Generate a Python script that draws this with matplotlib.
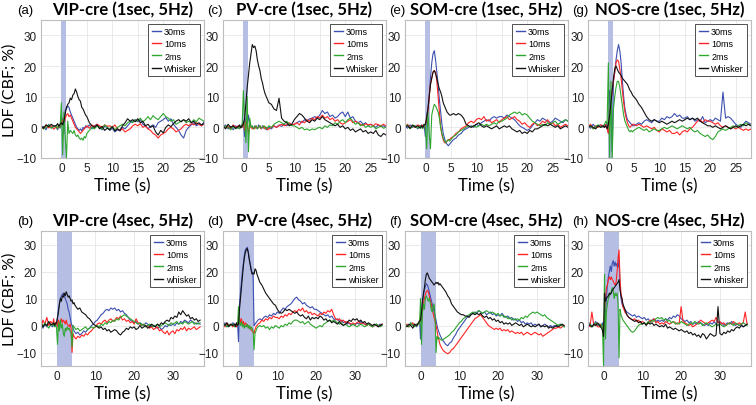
import numpy as np
import matplotlib.pyplot as plt
from matplotlib.lines import Line2D

# tempo (s): passo mais fino durante o estimulo
t_top = np.concatenate([np.arange(-4, -1, 0.5), np.arange(-1, 5, 0.25), np.arange(5, 28.01, 0.5)])
t_bot = np.concatenate([np.arange(-4, -1, 0.5), np.arange(-1, 5, 0.25), np.arange(5, 37.01, 0.5)])

titulos = ["VIP-cre (1sec, 5Hz)", "PV-cre (1sec, 5Hz)", "SOM-cre (1sec, 5Hz)", "NOS-cre (1sec, 5Hz)",
           "VIP-cre (4sec, 5Hz)", "PV-cre (4sec, 5Hz)", "SOM-cre (4sec, 5Hz)", "NOS-cre (4sec, 5Hz)"]
letras = ["(a)", "(c)", "(e)", "(g)", "(b)", "(d)", "(f)", "(h)"]
rotulos_top = ["30ms", "10ms", "2ms", "Whisker"]
rotulos_bot = ["30ms", "10ms", "2ms", "whisker"]
duracao = [1, 1, 1, 1, 4, 4, 4, 4]

# ---------- linha de cima (1 s) ----------
vip1_30 = [-0.5, 0.3, -0.8, 1.0, -0.2, 0.5,
           0.0, -0.8, 0.6, -0.3, 1.0, 3.0, -2.0, 5.5, 6.0, 7.0, 6.5, 5.0,
           4.0, 3.0, 2.0, 1.0, 0.0, -0.5, -1.0, -0.5, -1.2, 0.0, -0.5, 0.5,
           0.0, 0.8, -0.5, 0.5, 1.0, 0.0, -0.8, 0.3, 0.0, -1.0,
           -0.3, -1.5, -0.8, -1.2, 0.0, -0.5, 0.5, 1.5, 2.0, 2.5,
           1.8, 2.5, 1.0, 0.5, -0.5, 0.3, 0.8, 0.0, 1.5, 2.0,
           2.5, 3.2, 2.0, 2.8, 1.0, 0.0, -1.0, -2.5, -3.5, -1.0,
           0.0, 0.8, 1.5, 0.5, 1.0, 0.5, 1.8]
vip1_10 = [0.3, -0.5, 0.8, -0.2, 0.5, -0.6,
           0.2, -0.5, 0.8, 0.0, 1.5, 2.5, 0.5, 3.0, 4.0, 4.5, 3.5, 4.0,
           3.0, 2.0, 1.0, 0.0, -0.5, -1.0, -1.5, -2.0, -1.5, -1.0, -0.5, 0.0,
           0.5, -0.3, 0.8, 0.2, 1.0, 0.5, 0.0, 0.8, 0.3, 0.5,
           0.0, 0.8, -0.5, -1.0, -0.5, -1.5, -1.0, -0.5, 0.5, 1.0,
           0.5, 1.2, 0.0, 0.5, -0.5, -1.0, -2.0, -2.5, -3.5, -2.5,
           -2.0, -1.5, -0.5, 0.0, -0.5, -1.5, -1.0, -0.5, 0.5, 1.0,
           0.5, 1.2, 0.8, 1.5, 1.0, 0.5, 1.2]
vip1_2 = [0.5, -0.5, 0.0, 0.8, -0.3, 0.2,
          0.5, -0.5, 1.0, 0.0, 8.0, -9.0, 5.0, -3.0, -10.0, 2.0, -2.0, -1.0,
          -1.5, -2.0, -1.0, -2.5, -3.0, -2.5, -3.5, -4.0, -3.5, -4.2, -3.0, -3.5,
          -2.0, -1.0, 0.0, -0.5, 0.5, 0.0, -0.5, 0.8, 0.0, -0.5,
          0.3, -0.8, 0.0, 0.5, 1.0, 0.5, 1.5, 2.0, 1.5, 2.5,
          2.0, 3.0, 1.8, 2.5, 3.5, 2.5, 3.8, 3.0, 2.5, 3.5,
          4.5, 3.5, 3.0, 2.0, 2.5, 1.0, 1.5, 2.0, 2.5, 1.5,
          2.0, 1.5, 2.5, 1.8, 3.0, 2.5, 2.0]
vip1_w = [0.5, -0.3, 0.8, 0.2, 1.0, 0.4,
          0.6, 1.2, 0.3, 1.0, 1.5, 0.8, 2.0, 4.5, 6.5, 7.5, 8.0, 9.5,
          9.0, 10.5, 11.0, 12.5, 11.5, 10.0, 9.0, 8.5, 6.5, 6.0, 5.0, 4.0,
          3.5, 1.5, 0.5, 0.0, 0.8, -0.5, 0.3, -1.0, -0.3, -0.8,
          0.2, -1.2, -0.5, -1.0, 0.5, 1.5, 2.8, 2.0, 2.5, 1.8,
          2.8, 1.5, 2.0, 0.5, 1.0, 0.0, 0.5, -1.5, -2.5, -1.0,
          -1.8, 0.0, 0.8, 0.2, 1.2, 2.0, 2.5, 1.8, 2.5, 2.0,
          2.8, 1.5, 2.0, 1.0, 1.5, 0.8, 1.2]

pv1_30 = [0.0, 0.8, -0.5, 0.3, -0.8, 0.5,
          -0.3, 0.5, 0.0, 1.0, 2.0, -3.0, 3.0, 0.5, 4.0, 1.0, 0.5, 0.0,
          -0.5, 0.5, 0.0, -0.5, 0.8, 0.0, -0.5, 0.5, -0.3, 0.0, -0.8, -0.5,
          0.0, -0.5, 0.5, 0.0, 0.8, 0.3, 1.0, 0.5, 1.2, 0.8,
          1.0, 1.5, 2.0, 1.5, 2.5, 2.0, 2.8, 3.0, 3.5, 3.0,
          4.0, 5.5, 4.5, 5.0, 3.5, 4.0, 3.0, 3.5, 4.5, 5.0,
          3.5, 5.0, 3.0, 3.5, 2.0, 1.5, 2.0, 1.0, 1.5, 0.5,
          1.0, 0.5, 0.0, 0.8, 0.2, 0.5, 0.0]
pv1_10 = [0.5, -0.3, 0.3, -0.5, 0.8, 0.0,
          0.5, -0.3, 0.3, 0.0, 1.5, -1.0, 2.0, 1.0, -2.0, 0.5, 0.0, -0.5,
          0.0, -0.5, 0.5, -0.3, 0.0, 0.5, -0.5, 0.0, 0.3, -0.5, 0.0, -0.8,
          -0.5, 0.0, 0.5, 0.0, 0.5, 1.0, 0.5, 0.8, 1.5, 0.8,
          1.0, 1.5, 0.8, 2.0, 1.5, 2.5, 2.0, 3.0, 2.5, 3.5,
          3.0, 4.0, 3.0, 3.5, 2.5, 3.0, 2.0, 2.5, 1.5, 1.0,
          1.5, 2.0, 2.5, 1.5, 2.0, 1.5, 1.0, 0.5, 1.2, 0.8,
          1.0, 0.5, 1.2, 0.8, 0.5, 1.0, 0.5]
pv1_2 = [-0.5, 0.5, 0.0, -0.8, 0.3, -0.5,
         0.0, -0.5, 0.5, 0.0, 12.0, 2.0, -5.0, 10.0, -8.0, 3.0, 0.0, 0.5,
         -0.5, 0.0, 0.5, -0.5, 0.0, 0.5, -0.3, 0.0, 0.5, 0.3, -0.5, 0.0,
         0.5, 0.0, 1.0, 1.5, 2.0, 1.5, 1.0, 2.0, 1.0, 0.5,
         0.5, 0.0, -0.5, 0.0, -0.8, -0.5, -1.0, -0.5, -0.8, -0.3,
         0.0, -0.5, 0.5, 0.0, 0.8, 0.5, 1.5, 1.0, 2.0, 2.5,
         1.5, 2.5, 3.0, 2.0, 1.0, 1.5, 0.5, 1.0, 0.0, 0.5,
         0.0, 0.5, -0.5, 0.0, 0.5, -0.3, 0.0]
pv1_w = [0.5, -0.5, 1.0, 0.0, 0.5, -0.3,
         0.3, 0.8, -0.2, 0.5, 1.0, 3.0, 8.0, 13.0, 17.0, 21.0, 24.0, 27.0,
         26.0, 26.5, 25.0, 22.0, 20.0, 18.5, 16.0, 14.5, 12.5, 11.0, 10.0, 9.0,
         8.0, 7.5, 6.0, 5.5, 9.5, 3.0, 2.0, 1.5, 0.5, 1.0,
         2.5, 3.5, 4.5, 4.0, 3.0, 2.0, 1.5, 2.5, 2.0, 3.0,
         2.5, 3.5, 2.5, 2.0, 1.5, 1.0, 0.5, 1.0, 0.0, 0.5,
         -0.5, 0.0, -1.0, -0.5, -1.5, -1.0, -0.5, -1.5, -1.0, -2.0,
         -1.5, -2.0, -1.0, -2.5, -3.0, -2.0, -2.5]

som1_30 = [0.5, -0.3, 0.8, 0.0, 0.5, -0.5,
           0.3, 0.8, 0.0, 1.0, -3.0, 4.0, 6.0, 10.0, 16.0, 21.0, 24.0, 25.0,
           22.0, 18.0, 14.0, 9.0, 5.0, 1.0, -2.0, -3.5, -5.0, -5.5, -6.0, -5.5,
           -5.0, -4.0, -3.5, -2.5, -2.0, -1.0, -0.5, 0.0, 0.5, 0.0,
           1.0, 0.5, 1.5, 2.0, 2.5, 2.0, 3.0, 3.5, 3.0, 3.5,
           3.5, 3.0, 4.0, 3.5, 3.0, 2.5, 1.5, 0.5, 0.0, -0.5,
           -1.0, -0.5, 0.5, 1.5, 2.5, 2.0, 3.0, 2.5, 2.0, 1.5,
           2.0, 3.0, 2.5, 2.0, 1.5, 2.5, 2.0]
som1_10 = [0.3, 1.0, -0.2, 0.5, 0.0, 0.8,
           0.5, 0.0, 0.8, 0.3, 1.0, 3.0, 5.0, 10.0, 14.0, 16.0, 18.0, 18.5,
           18.0, 15.0, 10.0, 5.0, 0.0, -2.5, -4.0, -5.0, -5.0, -4.5, -4.0, -4.0,
           -3.5, -3.0, -2.0, -1.5, -0.5, 0.0, 0.5, 1.5, 2.0, 1.5,
           2.5, 3.0, 2.5, 3.5, 2.0, 2.5, 1.5, 2.0, 2.5, 1.5,
           2.5, 3.0, 3.5, 2.5, 3.0, 3.5, 2.5, 2.0, 1.0, 1.5,
           0.5, 0.0, 1.0, 1.5, 0.5, 1.0, 2.0, 1.5, 2.5, 1.0,
           1.5, 0.5, 1.0, 0.0, 0.5, 1.0, 0.5]
som1_2 = [0.0, 0.8, -0.5, 0.3, 0.5, -0.3,
          0.5, 0.0, -0.5, 1.0, 0.5, -7.0, 5.0, -2.0, -7.0, 4.0, 6.0, 7.5,
          7.0, 6.0, 5.0, 3.0, 0.0, -2.0, -3.5, -4.5, -5.0, -4.5, -4.0, -4.5,
          -4.0, -3.0, -2.5, -1.5, -1.0, -0.5, 0.0, 0.5, 0.0, 0.5,
          0.0, 0.5, 1.0, 0.5, 1.0, 0.5, 1.0, 1.5, 1.0, 2.0,
          2.0, 2.5, 3.0, 4.0, 4.5, 5.0, 4.5, 5.0, 4.0, 4.5,
          4.0, 3.0, 2.0, 1.5, 1.0, 0.5, 1.0, 0.5, 1.5, 1.0,
          1.5, 2.0, 1.0, 1.5, 2.0, 2.5, 2.0]
som1_w = [0.0, 0.5, -0.3, 0.8, 0.0, 0.5,
          -0.3, 0.5, 0.0, 0.8, 1.0, 3.0, 6.0, 10.0, 14.0, 16.0, 18.0, 18.5,
          17.5, 16.0, 14.0, 12.5, 11.5, 10.0, 8.0, 7.0, 6.0, 5.0, 4.5, 4.0,
          4.0, 4.5, 4.0, 4.5, 4.0, 3.0, 1.0, 0.5, 0.0, 0.5,
          1.0, 1.5, 0.5, 0.0, 0.5, 0.0, -0.5, 0.0, 0.5, -0.5,
          0.0, 0.5, 0.0, 0.5, -0.5, -1.0, -1.5, -1.0, -2.0, -1.5,
          -2.0, -1.0, -1.5, -0.5, -0.5, 0.0, 0.5, 1.0, 0.5, 1.0,
          0.5, 0.0, 0.5, -0.5, 0.0, 0.5, 0.0]

nos1_30 = [0.5, -0.3, 1.0, 0.0, 0.5, 0.8,
           0.0, 1.0, 0.5, 1.5, -2.0, 12.0, 5.0, -8.0, 15.0, 18.0, 22.0, 25.0,
           27.0, 25.0, 21.0, 15.0, 10.0, 6.0, 4.0, 2.5, 2.0, 1.5, 1.0, 0.5,
           0.5, 1.0, 1.5, 1.0, 2.0, 2.5, 2.0, 1.5, 2.5, 2.0,
           2.0, 3.0, 2.5, 3.5, 3.0, 3.5, 4.5, 3.5, 4.0, 3.0,
           3.0, 3.5, 2.5, 3.0, 2.0, 2.5, 2.0, 3.5, 1.5, 2.0,
           2.5, 2.0, 3.0, 2.5, 2.0, 11.5, 3.0, 3.5, 3.0, 2.0,
           1.0, 0.5, 0.0, 1.0, 2.0, 1.5, 1.0]
nos1_10 = [0.3, 1.0, -0.5, 0.5, 0.0, 0.8,
           0.5, 0.0, 1.0, -0.5, -2.0, 5.0, 8.0, 12.0, 15.0, 18.0, 21.0, 22.0,
           21.5, 19.0, 16.0, 12.0, 8.0, 5.0, 3.0, 1.5, 0.5, 0.0, 0.5, 1.0,
           1.0, 0.5, 1.0, 0.5, 0.0, 0.5, 0.0, -0.5, 0.0, -1.0,
           -1.5, -0.5, -1.0, -1.5, -1.0, -2.0, -2.0, -1.5, -2.5, -1.5,
           -1.0, -1.5, -0.5, 0.0, 1.0, 2.0, 2.5, 1.5, 2.5, 2.0,
           2.0, 1.5, 1.0, 1.5, 0.5, 0.0, 0.5, 0.0, -0.5, 0.0,
           -0.5, 0.0, -0.5, -1.0, -0.5, -1.0, -0.5]
nos1_2 = [0.0, 0.5, -0.5, 0.3, 0.8, 0.0,
          0.5, 1.0, 2.0, 1.0, 21.0, -10.0, 15.0, -10.0, 6.0, 10.0, 13.0, 15.0,
          15.0, 13.0, 10.0, 7.0, 4.0, 2.0, 1.0, 0.0, -1.0, -1.5, -1.0, -1.5,
          -1.0, -0.5, 0.0, -0.5, -1.0, -0.5, -1.5, -1.0, -0.5, -1.0,
          -1.0, -0.5, 0.0, -0.5, 0.0, 0.5, 0.0, -0.5, 0.0, 0.5,
          0.0, -0.5, 0.0, -1.0, -1.5, -1.0, -2.0, -2.5, -3.0, -2.5,
          -3.5, -4.0, -3.0, -1.5, -1.0, -0.5, -1.0, -0.5, 0.0, 0.5,
          0.0, 0.5, 1.0, 0.5, 1.5, 1.0, 0.5]
nos1_w = [0.0, 0.5, 0.0, -0.5, 0.5, 0.0,
          0.5, 0.0, 0.5, -0.5, 1.0, 4.0, 8.0, 12.0, 16.0, 19.0, 20.0, 19.0,
          18.0, 17.5, 17.0, 16.0, 15.5, 15.0, 14.5, 14.0, 13.0, 12.0, 11.5, 10.5,
          10.0, 9.0, 7.5, 6.5, 5.0, 3.5, 2.5, 2.0, 2.5, 2.0,
          1.5, 2.0, 1.5, 1.0, 1.5, 2.0, 1.5, 2.0, 2.5, 2.0,
          2.5, 3.0, 2.5, 3.0, 2.5, 3.0, 2.0, 1.5, 1.0, 0.5,
          0.5, 0.0, 0.5, 0.0, -0.5, 0.0, 0.5, 0.0, -0.5, 0.0,
          0.5, 0.0, 0.5, 1.0, 0.5, 1.0, 0.5]

# ---------- linha de baixo (4 s) ----------
vip4_30 = [0.0, -1.0, 0.5, -0.5, 1.0, 0.0,
           -0.5, 0.5, 0.0, -0.3, 0.5, 3.0, 6.0, 8.0, 10.0, 11.0, 11.5, 12.0,
           11.0, 10.0, 9.0, 8.0, 6.0, 5.0, 3.0, 1.0, 0.0, -1.0, -2.0, -2.5,
           -3.0, -2.5, -3.5, -3.0, -2.0, -2.5, -1.5, -1.0, 0.0, 0.5,
           1.5, 2.0, 3.0, 4.0, 4.5, 5.5, 6.0, 5.5, 6.5, 6.0,
           6.5, 5.5, 6.0, 5.0, 5.5, 4.5, 4.0, 3.0, 2.0, 1.5,
           1.0, 1.5, 0.5, 1.0, 0.5, 0.0, 1.0, 0.5, 0.0, -0.5,
           0.0, -0.5, -1.0, -0.5, -1.5, -1.0, 0.0, -0.5, 0.5, 0.0,
           0.5, 0.0, 1.0, 0.5, 1.5, 1.0, 2.0, 1.5, 1.0, 2.0,
           1.5, 1.0, 0.5, 1.0, 0.5]
vip4_10 = [-1.0, 2.0, 0.5, 3.0, 0.0, 1.5,
           0.5, 2.5, 0.0, 1.0, 1.5, -0.5, 2.0, 0.5, 1.5, 2.5, 1.0, 2.0,
           1.5, 0.5, 2.0, 0.5, 0.0, -0.5, 0.5, -1.0, -10.0, -3.0, -4.0, -4.5,
           -5.0, -4.0, -4.5, -3.5, -4.0, -3.0, -3.5, -2.5, -2.0, -1.0,
           -0.5, 0.5, 1.0, 0.5, 1.5, 2.0, 1.0, 2.0, 2.5, 1.5,
           2.0, 3.0, 2.5, 3.5, 2.0, 2.5, 1.5, 2.0, 1.0, 1.5,
           0.5, 2.5, 1.0, 0.5, 0.0, 0.5, -0.5, 0.0, -1.0, -0.5,
           -1.5, -1.0, -0.5, -2.0, -1.5, -2.5, -3.0, -2.0, -3.5, -2.5,
           -2.0, -3.0, -1.5, -2.0, -1.0, -1.5, -0.5, -2.0, -1.0, -1.5,
           -1.0, -0.5, -1.5, -1.0, -0.5]
vip4_2 = [0.5, -0.5, 1.0, 0.0, -1.0, 0.5,
          0.0, 1.0, -0.5, 0.5, -1.0, -7.0, 1.0, -2.0, 2.0, -1.0, 0.5, -3.0,
          -4.0, -1.0, -2.0, -0.5, -1.5, -1.0, -2.0, -3.0, -8.0, 0.0, -0.5, -1.0,
          -1.5, -1.0, -2.0, -1.5, -1.0, -0.5, -1.5, -1.0, -0.5, -1.0,
          -0.5, 0.0, -0.5, 0.5, 0.0, 1.0, 0.5, 1.5, 1.0, 2.0,
          1.5, 2.5, 2.0, 3.0, 3.5, 4.0, 3.5, 3.0, 2.5, 2.0,
          1.5, 1.0, 0.5, 1.0, 0.0, 0.5, -0.5, 0.0, 0.5, 0.0,
          -0.5, 0.0, 0.5, -0.5, 0.0, 0.5, 1.0, 0.5, 0.0, 1.0,
          0.5, 1.0, 1.5, 0.5, 1.0, 0.5, 1.5, 1.0, 0.5, 1.0,
          1.5, 0.5, 1.0, 0.5, 1.0]
vip4_w = [1.0, -0.5, 0.5, 0.0, 1.5, 0.3,
          0.5, 1.0, 0.0, 0.8, 1.0, 3.0, 5.0, 8.0, 10.0, 9.0, 11.0, 10.5,
          12.0, 11.0, 12.5, 11.5, 10.5, 11.0, 10.0, 9.0, 9.5, 8.0, 8.5, 7.5,
          7.0, 6.0, 6.5, 5.0, 4.5, 4.0, 3.0, 2.5, 1.5, 0.5,
          0.0, -0.5, -1.0, -0.5, -1.5, -1.0, -2.0, -1.5, -2.5, -2.0,
          -1.5, -2.0, -3.0, -3.5, -2.5, -2.0, -1.0, -1.5, -0.5, -1.0,
          -0.5, -1.5, -1.0, 0.0, -1.0, -0.5, 0.0, -1.0, -0.5, 0.5,
          0.0, -0.5, 0.5, 0.0, 1.0, 0.5, 1.5, 2.0, 1.5, 3.0,
          2.5, 3.5, 3.0, 5.0, 4.0, 5.5, 4.5, 3.5, 4.0, 2.5,
          3.0, 2.0, 2.5, 1.5, 2.0]

pv4_30 = [0.0, 1.0, -0.5, 0.5, 0.0, 1.0,
          0.5, 0.0, 1.0, 0.5, -6.0, 8.0, 12.0, 16.0, 20.0, 23.0, 26.0, 28.0,
          28.5, 29.0, 27.5, 25.0, 23.0, 21.0, 19.5, 19.0, 0.0, 0.5, 1.0, 1.5,
          2.0, 2.5, 2.0, 3.0, 3.5, 3.0, 4.0, 3.5, 4.5, 4.0,
          5.0, 4.5, 5.5, 6.5, 6.0, 7.0, 7.5, 8.0, 9.0, 10.0,
          10.5, 9.5, 9.0, 8.0, 8.5, 7.5, 7.0, 6.5, 7.0, 6.0,
          6.0, 5.5, 5.0, 4.5, 4.0, 3.5, 4.0, 3.0, 3.5, 2.5,
          2.0, 2.5, 1.5, 2.0, 1.0, 1.5, 0.5, 1.0, 0.0, 0.5,
          0.0, 1.0, 0.5, 1.5, 1.0, 0.5, 0.0, 0.5, 0.0, -0.5,
          0.0, 0.5, 0.0, 0.5, 0.0]
pv4_10 = [0.5, -0.5, 1.0, 0.0, 0.5, -0.5,
          0.0, 0.5, -0.5, 1.0, 0.5, 3.0, 1.0, 2.5, 0.5, 1.5, 0.0, 1.0,
          0.5, -0.5, 0.0, -1.0, -0.5, -1.5, -2.0, -2.5, -3.0, -1.5, -0.5, 0.0,
          0.5, 1.0, 2.0, 1.5, 2.5, 2.0, 3.0, 2.5, 3.5, 3.0,
          3.0, 2.5, 3.5, 3.0, 4.0, 3.5, 4.5, 4.0, 5.0, 5.5,
          5.0, 6.0, 5.5, 6.5, 5.0, 5.5, 4.5, 5.0, 4.0, 4.5,
          4.0, 3.5, 4.5, 4.0, 5.0, 4.5, 5.5, 5.0, 6.0, 4.0,
          2.5, 2.0, 2.5, 1.5, 2.0, 1.0, 1.5, 1.0, 0.5, 1.0,
          0.5, 1.0, 1.5, 0.5, 1.0, 0.5, 0.0, 0.5, 0.0, -0.5,
          0.0, 0.5, -0.5, 0.0, 0.5]
pv4_2 = [0.0, 0.5, -0.5, 0.3, 0.0, 0.5,
         -0.5, 0.0, 0.5, 0.0, 7.0, 1.0, 0.0, 1.5, -0.5, 0.5, -1.0, 0.0,
         -0.5, 0.5, -1.0, 0.0, -1.5, -0.5, -1.0, -2.0, -9.0, -3.0, -2.0, -1.0,
         -0.5, 0.0, -0.5, 0.0, -1.0, -0.5, -1.5, -0.5, -1.0, 0.0,
         -0.5, -1.0, 0.0, -0.5, 0.5, 0.0, 1.0, 0.5, 1.5, 2.0,
         2.0, 1.5, 1.0, 1.5, 0.5, 1.0, 1.5, 0.5, 0.0, -0.5,
         -1.0, -0.5, 0.0, -0.5, 0.5, 1.0, 1.5, 2.0, 1.5, 2.0,
         1.5, 1.0, 0.5, 1.0, 0.0, 0.5, 0.0, -0.5, 0.0, 0.5,
         0.0, -0.5, 0.0, 0.5, 0.0, -0.5, 0.0, 0.5, 0.0, -0.5,
         0.0, 0.5, 0.0, -0.5, 0.0]
pv4_w = [0.5, 0.0, 1.0, -0.5, 0.5, 0.0,
         0.5, -0.5, 1.0, 0.0, 0.5, 6.0, 10.0, 14.0, 18.0, 22.0, 25.0, 27.0,
         28.0, 28.5, 27.0, 24.5, 22.5, 20.5, 19.0, 19.5, 19.0, 21.0, 20.5, 19.0,
         18.0, 16.0, 15.0, 13.5, 12.0, 11.0, 10.0, 9.0, 8.0, 7.5,
         6.0, 5.0, 4.5, 5.0, 6.0, 5.5, 6.0, 5.5, 5.0, 4.5,
         5.0, 4.0, 3.5, 4.0, 3.0, 2.5, 3.5, 2.0, 3.0, 2.5,
         3.0, 2.5, 3.5, 3.0, 2.0, 2.5, 1.5, 2.0, 1.0, 1.5,
         1.0, 0.5, 1.5, 0.5, 0.0, 0.5, 1.0, 2.0, 1.5, 2.5,
         2.0, 2.5, 1.5, 2.0, 1.0, 1.5, 0.5, 1.0, 0.5, 0.0,
         0.5, 0.0, -0.5, 0.0, 0.5]

som4_30 = [0.5, 0.0, -0.5, 1.0, 0.0, 0.5,
           -0.5, 0.5, 1.0, 2.0, -5.0, 4.0, 8.0, 11.0, 13.0, 14.5, 15.5, 15.0,
           14.0, 12.5, 11.0, 9.5, 8.0, 6.5, 5.0, 3.5, 2.0, 0.0, -1.5, -2.5,
           -3.5, -5.0, -6.0, -7.0, -7.5, -6.5, -6.0, -4.5, -3.5, -2.0,
           -1.0, 0.0, 1.0, 2.0, 3.0, 3.5, 4.0, 4.5, 5.0, 4.5,
           5.5, 5.0, 4.5, 5.0, 4.0, 4.5, 5.0, 4.0, 4.5, 3.5,
           4.0, 3.5, 4.5, 3.5, 3.0, 3.5, 2.5, 3.0, 2.0, 2.5,
           1.5, 2.0, 1.0, 1.5, 0.5, 1.0, 0.5, 1.0, 0.0, 0.5,
           0.0, 0.5, -0.5, 0.0, 0.5, 0.0, -0.5, 0.0, -0.5, 0.0,
           -0.5, 0.0, 0.5, 0.0, -0.5]
som4_10 = [0.0, 0.5, -0.5, 0.5, 1.0, 0.0,
           0.5, 0.0, 1.0, 1.5, 3.0, 1.0, 5.0, 8.0, 10.0, 11.5, 12.5, 13.0,
           12.5, 11.0, 9.5, 8.0, 6.0, 4.5, 3.0, 1.5, 0.0, -2.0, -4.0, -5.5,
           -7.0, -8.5, -9.5, -10.0, -10.5, -10.0, -9.0, -8.5, -7.5, -6.5,
           -5.5, -4.5, -3.5, -2.5, -1.5, -0.5, 0.5, 1.5, 2.5, 3.0,
           3.5, 4.0, 3.0, 2.0, 1.0, 0.0, -0.5, -1.0, -1.5, -1.0,
           -1.5, -1.0, -2.0, -1.5, -2.0, -1.5, -2.5, -2.0, -2.5, -3.0,
           -2.5, -3.0, -2.5, -3.5, -3.0, -2.5, -3.0, -3.5, -3.0, -2.5,
           -3.0, -3.5, -3.0, -4.0, -3.5, -3.0, -2.5, -2.0, -1.5, -1.0,
           -1.0, -0.5, -1.0, -0.5, 0.0]
som4_2 = [0.5, 0.0, -0.5, 1.0, 0.0, -0.5,
          0.5, 0.0, 1.0, 0.5, 10.0, -7.0, 5.0, 8.0, 6.0, 10.0, 11.0, 10.0,
          9.0, 10.0, 8.5, 6.0, 5.0, 7.0, 8.0, 3.0, -10.0, -4.0, -5.0, -4.5,
          -5.0, -5.5, -5.0, -4.5, -4.0, -3.5, -2.5, -2.0, -1.0, 0.0,
          1.0, 1.5, 2.5, 3.0, 3.5, 4.0, 4.5, 5.0, 4.5, 5.0,
          5.5, 5.0, 4.5, 5.0, 5.5, 5.0, 4.5, 5.0, 4.5, 4.0,
          4.5, 3.5, 4.0, 3.0, 3.5, 2.5, 3.0, 2.0, 2.5, 2.0,
          2.5, 2.0, 3.0, 2.5, 3.5, 3.0, 4.0, 4.5, 5.0, 4.5,
          5.0, 4.5, 4.0, 3.5, 4.0, 3.0, 2.5, 2.0, 1.5, 1.0,
          0.5, 0.0, 0.5, 0.0, -0.5]
som4_w = [0.0, -0.5, 0.5, 0.0, -1.0, 0.5,
          0.0, 0.5, 1.0, 1.5, 2.0, 5.0, 9.0, 12.0, 14.0, 17.0, 19.0, 19.5,
          18.5, 17.5, 17.0, 16.5, 16.0, 15.5, 15.0, 15.5, 16.0, 15.5, 16.0, 15.0,
          15.5, 14.5, 13.5, 12.5, 11.0, 10.0, 8.0, 7.0, 6.0, 5.0,
          4.5, 4.0, 4.0, 3.5, 3.5, 3.0, 4.0, 4.5, 4.0, 4.5,
          4.0, 4.5, 3.5, 3.0, 3.5, 2.5, 3.0, 2.0, 2.5, 1.5,
          2.0, 1.0, 1.5, 0.5, 1.0, 0.5, 1.0, 0.0, 0.5, 1.0,
          0.5, 0.0, 0.5, -0.5, 0.0, 0.5, 0.0, -0.5, 0.0, -0.5,
          0.0, 0.5, -0.5, 0.0, -0.5, 0.0, -1.0, -0.5, -1.0, -0.5,
          0.0, -0.5, 0.0, 0.5, 0.0]

nos4_30 = [0.0, 1.0, -0.5, 0.5, 1.5, 0.0,
           0.5, -0.5, 0.0, 1.0, -3.0, 2.0, 5.0, 10.0, 15.0, 18.0, 20.0, 22.0,
           20.0, 23.0, 24.0, 22.0, 23.5, 22.0, 23.0, 21.5, 25.0, 15.0, 10.0, 8.0,
           7.0, 6.0, 5.0, 4.5, 4.0, 3.5, 4.0, 3.0, 3.5, 3.0,
           2.5, 3.0, 2.0, 2.5, 1.5, 2.0, 2.5, 1.5, 2.0, 1.5,
           2.0, 1.5, 2.5, 2.0, 3.0, 2.5, 3.5, 3.0, 4.0, 3.5,
           2.5, 2.0, 1.5, 2.0, 1.0, 1.5, 0.5, 1.0, 0.5, 1.5,
           1.0, 0.5, 0.0, 0.5, 0.0, 1.0, 0.5, 1.5, 0.5, 0.0,
           0.5, 1.0, 0.0, 0.5, 1.0, 0.5, 1.5, 0.5, 0.0, 0.5,
           0.0, 0.5, -0.5, 0.0, 0.5]
nos4_10 = [0.5, -0.5, 5.0, 0.0, 0.5, -0.5,
           -0.5, 0.5, 0.0, -1.0, -3.0, 5.0, 10.0, 14.0, 15.0, 17.0, 18.0, 17.0,
           18.0, 17.0, 16.5, 15.5, 15.0, 16.0, 20.0, 25.0, 28.0, 17.0, 12.0, 10.0,
           7.0, 5.0, 4.0, 3.0, 2.5, 2.0, 2.5, 1.5, 2.0, 1.0,
           1.5, 1.0, 0.5, 1.0, 2.0, 1.5, 2.5, 1.0, 1.5, 0.5,
           1.0, 0.5, 1.5, 1.0, 0.5, 1.0, 1.5, 1.0, 0.5, 1.0,
           7.0, 1.5, 1.0, 0.5, 0.0, 0.5, -0.5, 0.0, 0.5, 1.0,
           2.0, 1.5, 1.0, 0.5, 1.0, 1.5, 2.0, 1.5, 3.0, 1.0,
           1.5, 0.5, 1.0, 0.0, 0.5, 1.0, 0.5, 1.5, 0.5, 0.5,
           1.0, 0.5, 1.0, 5.0, 0.5]
nos4_2 = [0.0, 0.5, -0.5, 0.0, 1.0, 0.5,
          0.0, -0.5, 0.5, -1.0, -15.0, 19.0, -5.0, 5.0, 8.0, 10.0, 11.0, 12.0,
          12.5, 14.0, 13.0, 10.0, 12.0, 11.0, 12.0, 8.0, -12.0, 6.0, 4.0, 3.0,
          2.0, 1.0, 0.0, -1.0, -2.0, -2.5, -2.0, -1.0, 0.0, 0.5,
          0.5, 1.0, 0.5, 1.5, 1.0, 2.0, 1.5, 2.5, 3.0, 2.5,
          3.0, 2.0, 2.5, 1.5, 2.0, 1.0, 1.5, 0.5, 1.0, 0.5,
          1.5, 1.0, 0.5, 0.0, 0.5, 1.0, 0.5, 1.5, 1.0, 0.5,
          1.0, 0.0, 0.5, 1.0, 0.5, 0.0, -0.5, 0.0, 0.5, 0.0,
          0.5, 0.0, -0.5, 0.0, 0.5, 1.0, 0.5, 0.0, 1.0, 0.5,
          0.0, 0.5, 1.0, 0.5, 0.0]
nos4_w = [0.5, 0.0, -0.5, 0.5, 0.0, 1.0,
          0.0, -0.5, -1.0, -2.0, -4.0, 12.0, 9.0, 10.0, 10.5, 11.0, 12.0, 11.5,
          12.0, 13.0, 13.5, 14.0, 14.5, 15.0, 15.5, 16.0, 17.0, 13.0, 11.0, 10.0,
          8.0, 6.0, 4.0, 3.0, 2.5, 2.0, 1.5, 2.0, 1.0, 1.5,
          0.5, 1.0, 0.0, 1.0, 0.5, 1.0, 0.0, 0.5, 0.0, -0.5,
          0.0, -0.5, 0.5, -1.0, -0.5, -1.0, -1.5, -1.0, -1.5, -2.0,
          -1.5, -2.0, -2.5, -2.0, -3.0, -2.5, -3.5, -3.0, -4.0, -3.5,
          -4.5, -3.0, -3.5, -5.0, -4.0, -3.0, -3.5, -4.0, -3.5, 7.0,
          -3.0, -3.5, -2.5, -3.0, -2.0, -2.5, -1.5, -2.0, -1.0, -0.5,
          -1.0, 0.0, -0.5, 0.0, 0.5]

paineis = [
    [vip1_30, vip1_10, vip1_2, vip1_w],
    [pv1_30, pv1_10, pv1_2, pv1_w],
    [som1_30, som1_10, som1_2, som1_w],
    [nos1_30, nos1_10, nos1_2, nos1_w],
    [vip4_30, vip4_10, vip4_2, vip4_w],
    [pv4_30, pv4_10, pv4_2, pv4_w],
    [som4_30, som4_10, som4_2, som4_w],
    [nos4_30, nos4_10, nos4_2, nos4_w],
]

cores = ["#3d4fb0", "#ff2424", "#2fa62f", "#111111"]

W, H = 756, 406
fig = plt.figure(figsize=(W / 100, H / 100), dpi=100)

esquerdas = [41, 223, 405, 588]
largura = 163

for i in range(8):
    linha = i // 4
    col = i % 4
    if linha == 0:
        topo, base = 21, 159
        t = t_top
    else:
        topo, base = 232, 367
        t = t_bot
    ax = fig.add_axes([esquerdas[col] / W, 1 - base / H, largura / W, (base - topo) / H])

    ax.axvspan(0, duracao[i], color="#b6bee4", lw=0, zorder=1)
    for serie, cor in zip(paineis[i], cores):
        ax.plot(t, serie, color=cor, lw=0.8, zorder=2)

    if linha == 0:
        ax.set_xlim(-4, 28)
        ax.set_ylim(-10, 35)
        ax.set_xticks([0, 5, 10, 15, 20, 25])
    else:
        ax.set_xlim(-4, 38)
        ax.set_ylim(-15, 35)
        ax.set_xticks([0, 10, 20, 30])
    ax.set_yticks([-10, 0, 10, 20, 30])

    ax.grid(True, color="#e6e6e6", lw=0.6)
    ax.set_axisbelow(True)
    for s in ax.spines.values():
        s.set_color("#bdbdbd")
        s.set_linewidth(0.8)
    ax.tick_params(length=0, labelsize=8.5, colors="#222222", pad=3)
    for lab in ax.get_xticklabels() + ax.get_yticklabels():
        lab.set_family("Liberation Sans")

    ax.set_xlabel("Time (s)", fontsize=12, family="Lato", labelpad=2)
    if col == 0:
        ax.set_ylabel("LDF (CBF; %)", fontsize=11.5, family="Lato", labelpad=0)

    ax.set_title(titulos[i], fontsize=12, fontweight="bold", family="Lato", pad=4)
    dx = -24 if col == 0 else -16
    ax.text(dx / largura, 1.03, letras[i], transform=ax.transAxes, fontsize=9.5,
            family="Liberation Sans", ha="left", va="bottom")

    # legenda com alcas coloridas
    rot = rotulos_top if linha == 0 else rotulos_bot
    alcas = [Line2D([], [], color=c, lw=1.0) for c in cores]
    leg = ax.legend(alcas, rot, loc="upper right", prop={"family": "Liberation Sans", "size": 6.5},
                    handlelength=1.0, handletextpad=0.4, labelspacing=0.35, borderpad=0.35,
                    borderaxespad=0.45, fancybox=False, framealpha=1)
    leg.get_frame().set_edgecolor("#333333")
    leg.get_frame().set_linewidth(0.6)

fig.savefig("out.png", dpi=100)
